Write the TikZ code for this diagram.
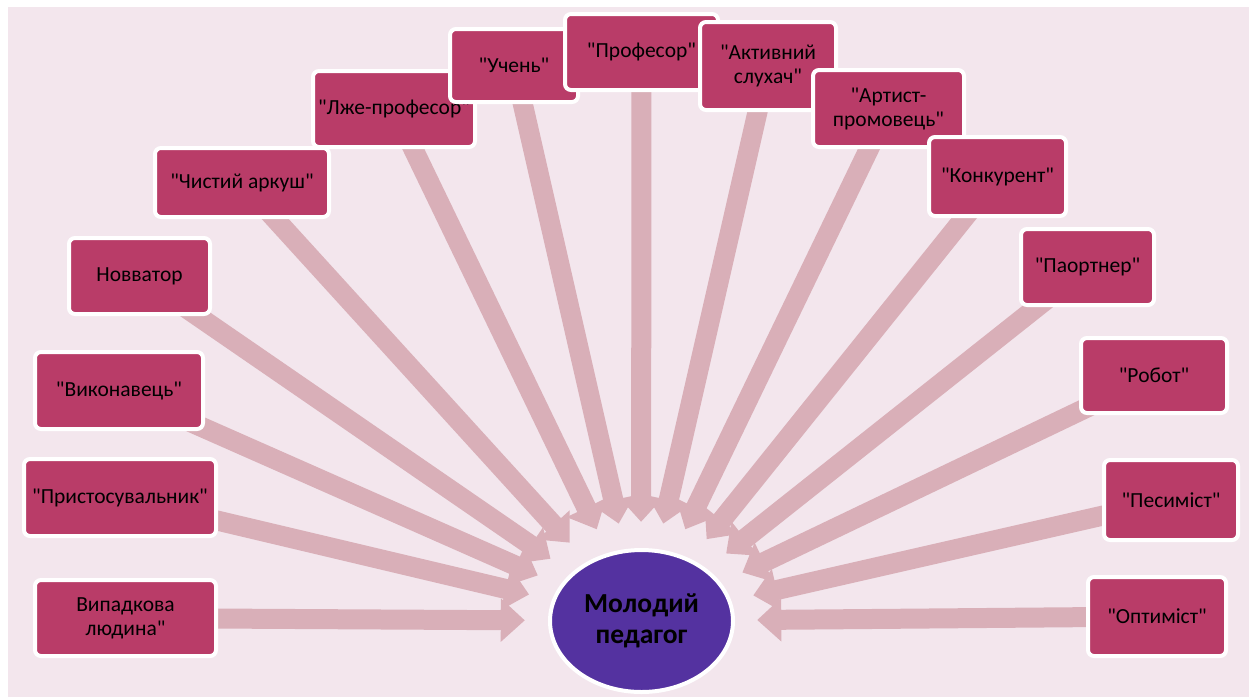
\documentclass[tikz,border=0pt]{standalone}
\usepackage{fontspec}
\setmainfont{Carlito}[Ligatures=TeXOff]
\usetikzlibrary{arrows.meta,shapes.geometric}
\definecolor{bgc}{HTML}{F3E6ED}
\definecolor{boxc}{HTML}{B93C68}
\definecolor{arrc}{HTML}{D9AFB8}
\definecolor{elc}{HTML}{5432A0}
\begin{document}
\begin{tikzpicture}[x=1pt,y=-1pt,
  rolebox/.style={draw=white, line width=4pt, fill=boxc, rounded corners=6pt, align=center,
    font=\fontsize{21.5}{24}\selectfont, text=black, inner sep=2pt},
  ray/.style={draw=arrc, line width=20pt, -{Triangle[length=24pt,width=42pt]}},
  centre/.style={ellipse, draw=white, line width=4pt, fill=elc, align=center, inner sep=0pt,
    font=\fontsize{27.5}{31}\selectfont\bfseries, text=black}]
\useasboundingbox (0,0) rectangle (1249,697);
\fill[white] (0,0) rectangle (1249,697);
\fill[bgc] (8,7) rectangle (1249,697);

\node[ellipse, minimum width=232pt, minimum height=198pt, inner sep=0pt] (ring) at (641,621) {};

\coordinate (c1) at (125.5,618);
\coordinate (c2) at (120,497.5);
\coordinate (c3) at (119,390.5);
\coordinate (c4) at (139.5,276);
\coordinate (c5) at (242,182.5);
\coordinate (c6) at (394,109);
\coordinate (c7) at (514,65.5);
\coordinate (c8) at (641.5,52);
\coordinate (c9) at (768,66);
\coordinate (c10) at (888.5,108.5);
\coordinate (c11) at (997.5,176.5);
\coordinate (c12) at (1087.5,267);
\coordinate (c13) at (1154,375.5);
\coordinate (c14) at (1171,500);
\coordinate (c15) at (1157,616.5);

\foreach \i in {1,...,15}{
  \draw[ray] (c\i) -- (ring);
}

\node[rolebox, minimum width=181pt, minimum height=76pt] (b1) at (c1) {Випадкова\\людина"};
\node[rolebox, minimum width=192pt, minimum height=77pt] (b2) at (c2) {"Пристосувальник"};
\node[rolebox, minimum width=168pt, minimum height=77pt] (b3) at (c3) {"Виконавець"};
\node[rolebox, minimum width=141pt, minimum height=76pt] (b4) at (c4) {Новватор};
\node[rolebox, minimum width=174pt, minimum height=69pt] (b5) at (c5) {"Чистий аркуш"};
\node[rolebox, minimum width=162pt, minimum height=76pt] (b6) at (c6) {"Лже-професор"};
\node[rolebox, minimum width=128pt, minimum height=73pt] (b7) at (c7) {"Учень"};
\node[rolebox, minimum width=153pt, minimum height=76pt] (b8) at (c8) {"Професор"};
\node[rolebox, minimum width=136pt, minimum height=88pt] (b9) at (c9) {"Активний\\слухач"};
\node[rolebox, minimum width=151pt, minimum height=77pt] (b10) at (c10) {"Артист-\\промовець"};
\node[rolebox, minimum width=137pt, minimum height=79pt] (b11) at (c11) {"Конкурент"};
\node[rolebox, minimum width=133pt, minimum height=76pt] (b12) at (c12) {"Паортнер"};
\node[rolebox, minimum width=146pt, minimum height=75pt] (b13) at (c13) {"Робот"};
\node[rolebox, minimum width=134pt, minimum height=80pt] (b14) at (c14) {"Песиміст"};
\node[rolebox, minimum width=138pt, minimum height=79pt] (b15) at (c15) {"Оптиміст"};

\node[centre, minimum width=183pt, minimum height=142pt] (ped) at (641.5,621) {Молодий\\педагог};
\end{tikzpicture}
\end{document}
